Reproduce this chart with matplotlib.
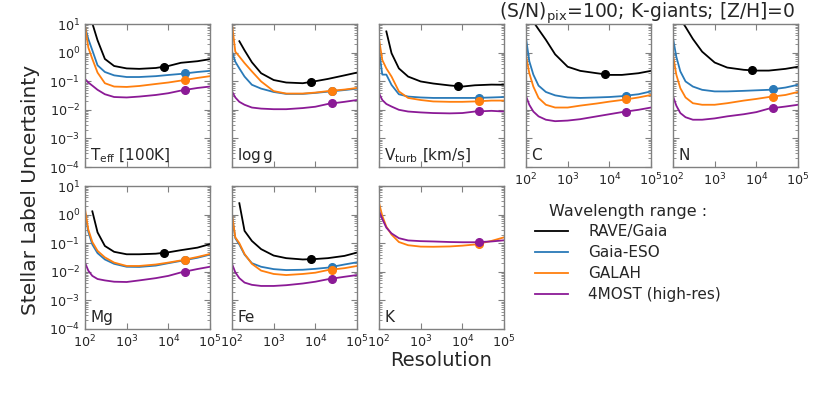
import matplotlib.pyplot as plt
import numpy as np

# resolution grid
resolution = [100, 120, 150, 200, 300, 500, 1000, 2000, 5000, 10000, 20000, 50000, 100000]
nan = np.nan

# survey resolutions where the markers sit
r_rave = 8000
r_high = 25000

surveys = ['RAVE/Gaia', 'Gaia-ESO', 'GALAH', '4MOST (high-res)']
colors = ['black', '#2a7ab8', '#ff7f0e', '#8b1a96']

# uncertainties per label (RAVE/Gaia, Gaia-ESO, GALAH, 4MOST)
teff_rave = [nan, nan, 10.5, 2.7, 0.6, 0.34, 0.28, 0.27, 0.29, 0.34, 0.44, 0.50, 0.59]
teff_ges = [8.0, 3.0, 1.2, 0.36, 0.21, 0.16, 0.14, 0.14, 0.15, 0.165, 0.18, 0.21, 0.23]
teff_galah = [9.0, 1.5, 0.6, 0.2, 0.085, 0.065, 0.063, 0.068, 0.08, 0.09, 0.105, 0.13, 0.15]
teff_4most = [0.12, 0.09, 0.07, 0.05, 0.035, 0.028, 0.027, 0.029, 0.033, 0.038, 0.047, 0.058, 0.065]

logg_rave = [nan, nan, 2.5, 1.2, 0.46, 0.19, 0.11, 0.09, 0.085, 0.10, 0.12, 0.16, 0.20]
logg_ges = [1.08, 0.48, 0.28, 0.145, 0.075, 0.055, 0.042, 0.036, 0.036, 0.039, 0.043, 0.049, 0.055]
logg_galah = [10.0, 1.08, 0.73, 0.43, 0.22, 0.098, 0.045, 0.037, 0.037, 0.040, 0.045, 0.051, 0.058]
logg_4most = [0.044, 0.027, 0.019, 0.015, 0.012, 0.011, 0.0105, 0.0105, 0.0115, 0.0128, 0.016, 0.019, 0.022]

vturb_rave = [nan, nan, 5.5, 0.95, 0.28, 0.145, 0.098, 0.083, 0.071, 0.065, 0.072, 0.076, 0.075]
vturb_ges = [1.2, 0.17, 0.17, 0.074, 0.035, 0.029, 0.027, 0.026, 0.026, 0.026, 0.026, 0.027, 0.028]
vturb_galah = [3.0, 0.55, 0.28, 0.145, 0.044, 0.026, 0.022, 0.0196, 0.019, 0.019, 0.0196, 0.021, 0.021]
vturb_4most = [0.038, 0.022, 0.016, 0.013, 0.010, 0.0087, 0.0081, 0.0077, 0.0075, 0.0077, 0.0087, 0.0092, 0.0087]

c_rave = [nan, nan, 12.0, 6.5, 2.8, 0.87, 0.32, 0.23, 0.19, 0.166, 0.166, 0.19, 0.23]
c_ges = [3.2, 0.5, 0.17, 0.07, 0.042, 0.032, 0.027, 0.026, 0.027, 0.028, 0.030, 0.035, 0.044]
c_galah = [0.8, 0.19, 0.065, 0.026, 0.015, 0.012, 0.012, 0.014, 0.0166, 0.0193, 0.022, 0.027, 0.033]
c_4most = [0.030, 0.015, 0.0087, 0.0059, 0.0045, 0.004, 0.0042, 0.0047, 0.0059, 0.007, 0.0083, 0.010, 0.012]

n_rave = [nan, nan, 15.0, 7.9, 3.0, 1.08, 0.45, 0.30, 0.25, 0.235, 0.235, 0.27, 0.32]
n_ges = [3.2, 0.72, 0.22, 0.098, 0.065, 0.05, 0.044, 0.044, 0.046, 0.048, 0.050, 0.060, 0.075]
n_galah = [0.83, 0.17, 0.057, 0.027, 0.017, 0.015, 0.015, 0.017, 0.021, 0.024, 0.028, 0.033, 0.042]
n_4most = [0.030, 0.014, 0.0077, 0.0055, 0.0045, 0.0045, 0.005, 0.0059, 0.007, 0.0083, 0.011, 0.013, 0.015]

mg_rave = [nan, nan, 1.3, 0.24, 0.08, 0.05, 0.041, 0.041, 0.043, 0.048, 0.057, 0.070, 0.093]
mg_ges = [1.2, 0.25, 0.09, 0.045, 0.027, 0.019, 0.015, 0.0148, 0.0165, 0.020, 0.024, 0.031, 0.040]
mg_galah = [1.55, 0.30, 0.11, 0.054, 0.032, 0.021, 0.016, 0.016, 0.018, 0.021, 0.025, 0.033, 0.042]
mg_4most = [0.021, 0.011, 0.0072, 0.0056, 0.005, 0.0045, 0.0044, 0.005, 0.006, 0.0072, 0.0095, 0.0125, 0.015]

fe_rave = [nan, nan, 2.5, 0.27, 0.12, 0.062, 0.037, 0.030, 0.027, 0.028, 0.030, 0.036, 0.047]
fe_ges = [0.9, 0.15, 0.09, 0.04, 0.02, 0.015, 0.0124, 0.0115, 0.0118, 0.0127, 0.014, 0.018, 0.0215]
fe_galah = [1.0, 0.16, 0.10, 0.042, 0.019, 0.011, 0.0084, 0.0077, 0.0084, 0.0093, 0.0115, 0.0134, 0.016]
fe_4most = [0.019, 0.0096, 0.006, 0.0042, 0.0035, 0.0032, 0.0032, 0.0034, 0.0039, 0.0045, 0.0055, 0.0067, 0.0077]

k_galah = [2.6, 0.9, 0.38, 0.2, 0.11, 0.085, 0.076, 0.075, 0.077, 0.082, 0.09, 0.12, 0.16]
k_4most = [1.35, 0.7, 0.35, 0.22, 0.15, 0.125, 0.118, 0.115, 0.11, 0.108, 0.108, 0.115, 0.126]

panels = [
    ('T$_{\\rm eff}$ [100K]', [teff_rave, teff_ges, teff_galah, teff_4most]),
    ('log$\\,$g', [logg_rave, logg_ges, logg_galah, logg_4most]),
    ('V$_{\\rm turb}$ [km/s]', [vturb_rave, vturb_ges, vturb_galah, vturb_4most]),
    ('C', [c_rave, c_ges, c_galah, c_4most]),
    ('N', [n_rave, n_ges, n_galah, n_4most]),
    ('Mg', [mg_rave, mg_ges, mg_galah, mg_4most]),
    ('Fe', [fe_rave, fe_ges, fe_galah, fe_4most]),
    ('K', [None, None, k_galah, k_4most]),
]

# panel positions in pixels (left, top)
W, H = 830, 399
lefts = [85, 232, 379, 526, 673, 85, 232, 379]
tops = [24, 24, 24, 24, 24, 186, 186, 186]
pw, ph = 125, 143
show_x = [False, False, False, True, True, True, True, True]
show_y = [True, False, False, False, False, True, False, False]

txt = '0.15'
plt.rcParams['font.family'] = 'DejaVu Sans'
plt.rcParams['mathtext.fontset'] = 'dejavusans'

fig = plt.figure(figsize=(W / 100, H / 100), dpi=100)

logr = np.log10(resolution)
lines = []
for i, (label, series) in enumerate(panels):
    ax = fig.add_axes([lefts[i] / W, 1 - (tops[i] + ph) / H, pw / W, ph / H])
    for j, vals in enumerate(series):
        if vals is None:
            continue
        v = np.array(vals, dtype=float)
        l, = ax.plot(resolution, v, color=colors[j], lw=1.3)
        if i == 0:
            lines.append(l)
        ok = ~np.isnan(v)
        rm = r_rave if j == 0 else r_high
        ym = 10 ** np.interp(np.log10(rm), logr[ok], np.log10(v[ok]))
        ax.plot([rm], [ym], 'o', color=colors[j], ms=5.5)
    ax.set_xscale('log')
    ax.set_yscale('log')
    ax.set_xlim(1e2, 1e5)
    ax.set_ylim(1e-4, 1e1)
    ax.set_yticks([1e-4, 1e-3, 1e-2, 1e-1, 1e0, 1e1])
    ax.set_xticks([1e2, 1e3, 1e4, 1e5])
    ax.tick_params(which='both', direction='in', top=True, right=True,
                   colors='0.5', labelcolor=txt, labelsize=9.2)
    ax.tick_params(which='major', length=4)
    ax.tick_params(which='minor', length=2)
    if not show_x[i]:
        ax.tick_params(labelbottom=False)
    if not show_y[i]:
        ax.tick_params(labelleft=False)
    for s in ax.spines.values():
        s.set_color('0.5')
        s.set_linewidth(1.0)
    ax.text(0.04, 0.05, label, transform=ax.transAxes, fontsize=11, color=txt)

fig.text(795 / W, 1 - 13 / H, '(S/N)$_{\\rm pix}$=100; K-giants; [Z/H]=0',
         ha='right', va='center', fontsize=13.5, color=txt)
fig.text(30 / W, 1 - 190 / H, 'Stellar Label Uncertainty', rotation=90,
         ha='center', va='center', fontsize=14.5, color=txt)
fig.text(441 / W, 1 - 360 / H, 'Resolution', ha='center', va='center',
         fontsize=14, color=txt)

leg = fig.legend(lines, surveys, loc='upper left', bbox_to_anchor=(524 / W, 1 - 193 / H),
                 frameon=False, fontsize=11, title='Wavelength range :',
                 title_fontsize=11.5, handlelength=2.2, labelspacing=0.38,
                 handletextpad=1.3, borderpad=0.2)
for t in leg.get_texts():
    t.set_color(txt)
leg.get_title().set_color(txt)

fig.savefig('out.png', dpi=100)
